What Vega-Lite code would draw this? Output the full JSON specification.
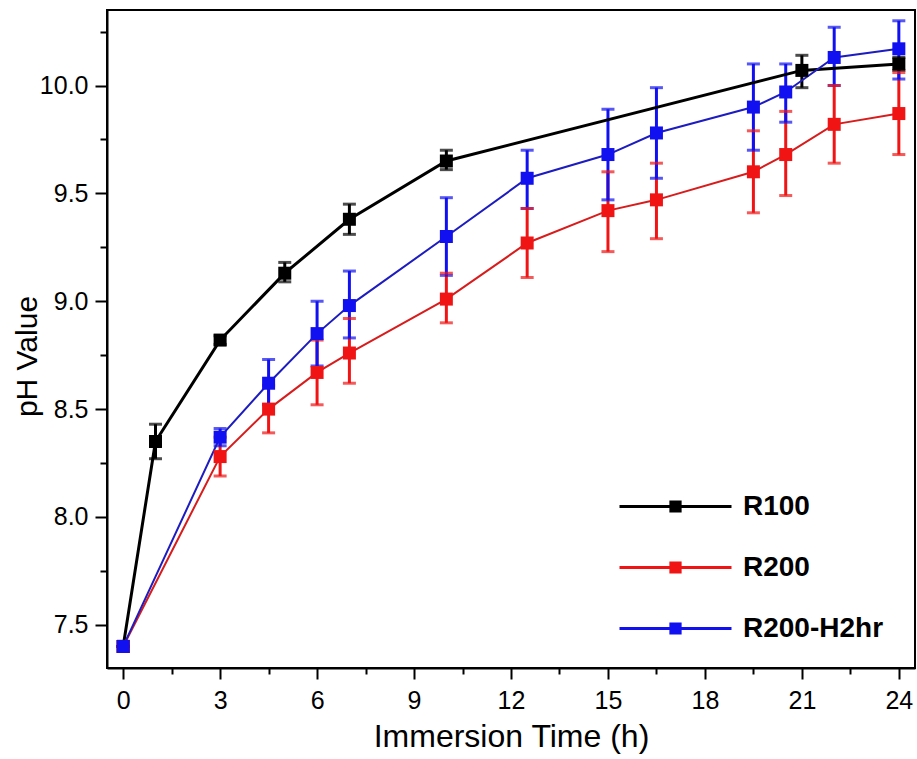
{
  "$schema": "https://vega.github.io/schema/vega-lite/v6.json",
  "width": 808,
  "height": 658,
  "autosize": {"type": "none"},
  "padding": {"left": 107, "top": 10, "right": 2, "bottom": 91},
  "background": "white",
  "config": {
    "view": {"stroke": "black", "strokeWidth": 2},
    "font": "Liberation Sans",
    "axis": {
      "grid": false,
      "domainColor": "black",
      "domainWidth": 2,
      "tickColor": "black",
      "tickWidth": 2,
      "labelColor": "black",
      "titleColor": "black",
      "labelFont": "Liberation Sans",
      "titleFont": "Liberation Sans",
      "labelFontSize": 25,
      "titleFontWeight": "normal"
    }
  },
  "data": {
    "values": [
      {"series": "R100", "t": 0, "ph": 7.40, "lo": 7.40, "hi": 7.40},
      {"series": "R100", "t": 1, "ph": 8.35, "lo": 8.27, "hi": 8.43},
      {"series": "R100", "t": 3, "ph": 8.82, "lo": 8.80, "hi": 8.84},
      {"series": "R100", "t": 5, "ph": 9.13, "lo": 9.09, "hi": 9.18},
      {"series": "R100", "t": 7, "ph": 9.38, "lo": 9.31, "hi": 9.45},
      {"series": "R100", "t": 10, "ph": 9.65, "lo": 9.61, "hi": 9.70},
      {"series": "R100", "t": 21, "ph": 10.07, "lo": 9.99, "hi": 10.14},
      {"series": "R100", "t": 24, "ph": 10.10, "lo": 10.07, "hi": 10.13},
      {"series": "R200", "t": 0, "ph": 7.40, "lo": 7.40, "hi": 7.40},
      {"series": "R200", "t": 3, "ph": 8.28, "lo": 8.19, "hi": 8.37},
      {"series": "R200", "t": 4.5, "ph": 8.50, "lo": 8.39, "hi": 8.61},
      {"series": "R200", "t": 6, "ph": 8.67, "lo": 8.52, "hi": 8.82},
      {"series": "R200", "t": 7, "ph": 8.76, "lo": 8.62, "hi": 8.92},
      {"series": "R200", "t": 10, "ph": 9.01, "lo": 8.90, "hi": 9.13},
      {"series": "R200", "t": 12.5, "ph": 9.27, "lo": 9.11, "hi": 9.43},
      {"series": "R200", "t": 15, "ph": 9.42, "lo": 9.23, "hi": 9.60},
      {"series": "R200", "t": 16.5, "ph": 9.47, "lo": 9.29, "hi": 9.64},
      {"series": "R200", "t": 19.5, "ph": 9.60, "lo": 9.41, "hi": 9.79},
      {"series": "R200", "t": 20.5, "ph": 9.68, "lo": 9.49, "hi": 9.88},
      {"series": "R200", "t": 22, "ph": 9.82, "lo": 9.64, "hi": 10.00},
      {"series": "R200", "t": 24, "ph": 9.87, "lo": 9.68, "hi": 10.06},
      {"series": "R200-H2hr", "t": 0, "ph": 7.40, "lo": 7.40, "hi": 7.40},
      {"series": "R200-H2hr", "t": 3, "ph": 8.37, "lo": 8.33, "hi": 8.41},
      {"series": "R200-H2hr", "t": 4.5, "ph": 8.62, "lo": 8.52, "hi": 8.73},
      {"series": "R200-H2hr", "t": 6, "ph": 8.85, "lo": 8.70, "hi": 9.00},
      {"series": "R200-H2hr", "t": 7, "ph": 8.98, "lo": 8.83, "hi": 9.14},
      {"series": "R200-H2hr", "t": 10, "ph": 9.30, "lo": 9.12, "hi": 9.48},
      {"series": "R200-H2hr", "t": 12.5, "ph": 9.57, "lo": 9.43, "hi": 9.70},
      {"series": "R200-H2hr", "t": 15, "ph": 9.68, "lo": 9.47, "hi": 9.89},
      {"series": "R200-H2hr", "t": 16.5, "ph": 9.78, "lo": 9.57, "hi": 9.99},
      {"series": "R200-H2hr", "t": 19.5, "ph": 9.90, "lo": 9.70, "hi": 10.10},
      {"series": "R200-H2hr", "t": 20.5, "ph": 9.97, "lo": 9.83, "hi": 10.10},
      {"series": "R200-H2hr", "t": 22, "ph": 10.13, "lo": 10.00, "hi": 10.27},
      {"series": "R200-H2hr", "t": 24, "ph": 10.17, "lo": 10.03, "hi": 10.30}
    ]
  },
  "layer": [
    {
      "mark": {"type": "rule", "strokeWidth": 3},
      "encoding": {
        "x": {
          "field": "t", "type": "quantitative",
          "scale": {"domain": [-0.5, 24.5], "nice": false, "zero": false},
          "axis": {
            "title": "Immersion Time (h)",
            "titleFontSize": 32,
            "values": [0, 1.5, 3, 4.5, 6, 7.5, 9, 10.5, 12, 13.5, 15, 16.5, 18, 19.5, 21, 22.5, 24],
            "labelExpr": "datum.value % 3 === 0 ? datum.label : ''",
            "tickSize": {"condition": {"test": "datum.value % 3 === 0", "value": 11}, "value": 6},
            "labelPadding": 9,
            "titlePadding": 8
          }
        },
        "y": {
          "field": "lo", "type": "quantitative",
          "scale": {"domain": [7.3, 10.35], "nice": false, "zero": false},
          "axis": {
            "title": "pH Value",
            "titleFontSize": 30,
            "titleY": 346,
            "titleX": -65,
            "values": [7.5, 7.75, 8, 8.25, 8.5, 8.75, 9, 9.25, 9.5, 9.75, 10, 10.25],
            "labelExpr": "datum.value % 0.5 === 0 ? format(datum.value, '.1f') : ''",
            "tickSize": {"condition": {"test": "datum.value % 0.5 === 0", "value": 12}, "value": 7},
            "labelPadding": 7
          }
        },
        "y2": {"field": "hi"},
        "color": {
          "field": "series", "type": "nominal",
          "scale": {"domain": ["R100", "R200", "R200-H2hr"], "range": ["#000000", "#f01414", "#1010f0"]},
          "legend": {
            "orient": "none",
            "legendX": 553,
            "legendY": 481,
            "title": null,
            "padding": 0,
            "symbolType": "M-4,0H4M-0.33,-0.33H0.33V0.33H-0.33Z",
            "symbolSize": 784,
            "symbolStrokeWidth": 3,
            "symbolOpacity": 1,
            "symbolOffset": 0,
            "labelOffset": 52,
            "labelFont": "Liberation Sans",
            "labelFontSize": 28,
            "labelFontWeight": "bold",
            "labelColor": "black",
            "rowPadding": 31,
            "encode": {
              "symbols": {
                "update": {
                  "opacity": {"value": 1},
                  "fillOpacity": {"value": 1},
                  "strokeOpacity": {"value": 1}
                }
              }
            }
          }
        }
      }
    },
    {
      "mark": {"type": "tick", "orient": "horizontal", "size": 13, "thickness": 3},
      "encoding": {
        "x": {"field": "t", "type": "quantitative"},
        "y": {"field": "lo", "type": "quantitative"},
        "color": {"field": "series", "type": "nominal"}
      }
    },
    {
      "mark": {"type": "tick", "orient": "horizontal", "size": 13, "thickness": 3},
      "encoding": {
        "x": {"field": "t", "type": "quantitative"},
        "y": {"field": "hi", "type": "quantitative"},
        "color": {"field": "series", "type": "nominal"}
      }
    },
    {
      "transform": [{"filter": "datum.series === 'R100'"}],
      "mark": {"type": "line", "strokeWidth": 3},
      "encoding": {
        "x": {"field": "t", "type": "quantitative"},
        "y": {"field": "ph", "type": "quantitative"},
        "detail": {"field": "series"},
        "stroke": {
          "field": "series", "type": "nominal",
          "scale": {"domain": ["R100", "R200", "R200-H2hr"], "range": ["#000000", "#d81c1c", "#1c1cc0"]},
          "legend": null
        }
      }
    },
    {
      "transform": [{"filter": "datum.series !== 'R100'"}],
      "mark": {"type": "line", "strokeWidth": 2},
      "encoding": {
        "x": {"field": "t", "type": "quantitative"},
        "y": {"field": "ph", "type": "quantitative"},
        "detail": {"field": "series"},
        "stroke": {
          "field": "series", "type": "nominal",
          "legend": null
        }
      }
    },
    {
      "mark": {"type": "point", "shape": "square", "filled": true, "size": 169, "opacity": 1},
      "encoding": {
        "x": {"field": "t", "type": "quantitative"},
        "y": {"field": "ph", "type": "quantitative"},
        "color": {"field": "series", "type": "nominal"}
      }
    }
  ]
}
